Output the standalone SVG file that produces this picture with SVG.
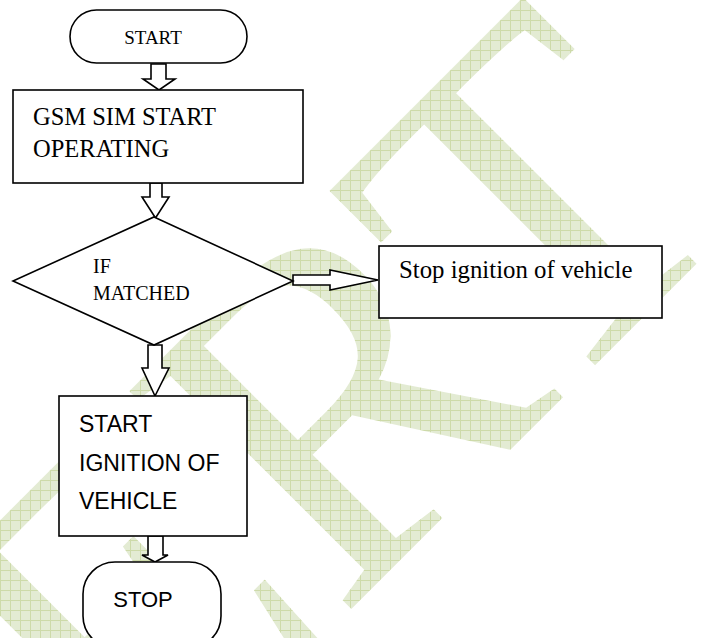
<svg xmlns="http://www.w3.org/2000/svg" width="707" height="638" viewBox="0 0 707 638">
<defs>
<pattern id="grid" width="10" height="10" patternUnits="userSpaceOnUse" patternTransform="rotate(45)">
<rect width="10" height="10" fill="#e3ebd3"/>
<path d="M0 0.5H10M0.5 0V10" stroke="#cddaa9" stroke-width="1"/>
</pattern>
<style>
.shape{fill:#fff;stroke:#000;stroke-width:1.6}
.arr{fill:#fff;stroke:#000;stroke-width:1.6;stroke-linejoin:miter}
.serif{font-family:"Liberation Serif","Times New Roman",serif;fill:#000}
.sans{font-family:"Liberation Sans",Arial,sans-serif;fill:#000}
.wm{font-family:"Liberation Serif","Times New Roman",serif;font-size:475px;fill:url(#grid)}
</style>
</defs>
<rect width="707" height="638" fill="#fff"/>
<g id="watermark">
<text class="wm" transform="rotate(-45)" x="-489" y="679">ERT</text>
</g>
<g id="connectors">
<polygon class="arr" points="151,64 166,64 166,79 175,79 159,90 143,79 151,79"/>
<polygon class="arr" points="150,183 162,183 162,197 169,197 155.5,218 142,197 150,197"/>
<polygon class="arr" points="293,275 330,275 330,270 378,280 330,290 330,285 293,285"/>
<polygon class="arr" points="148,345 162,345 162,368 169,368 155,396 142,368 148,368"/>
<polygon class="arr" points="148,536 163,536 163,555 168,555 155,562 142,555 148,555"/>
</g>
<g id="start">
<rect class="shape" x="70" y="10" width="177" height="53" rx="26.5"/>
<text class="serif" x="153" y="44" font-size="19" text-anchor="middle">START</text>
</g>
<g id="gsm">
<rect class="shape" x="13" y="90" width="290" height="93"/>
<text class="serif" font-size="24.5"><tspan x="33" y="125">GSM SIM START</tspan><tspan x="33" y="157">OPERATING</tspan></text>
</g>
<g id="decision">
<polygon class="shape" points="154,217 293,281 154,345 13,281"/>
<text class="serif" font-size="20"><tspan x="93" y="273">IF</tspan><tspan x="93" y="300">MATCHED</tspan></text>
</g>
<g id="stop-ignition">
<rect class="shape" x="379" y="246" width="283" height="72"/>
<text class="serif" x="399" y="278" font-size="24.8">Stop ignition of vehicle</text>
</g>
<g id="start-ignition">
<rect class="shape" x="59" y="396" width="188" height="140"/>
<text class="sans" font-size="23"><tspan x="79" y="432">START</tspan><tspan x="79" y="471">IGNITION OF</tspan><tspan x="79" y="509">VEHICLE</tspan></text>
</g>
<g id="stop">
<rect class="shape" x="83" y="562" width="138" height="86" rx="32"/>
<text class="sans" x="143" y="607" font-size="22" text-anchor="middle">STOP</text>
</g>
</svg>
